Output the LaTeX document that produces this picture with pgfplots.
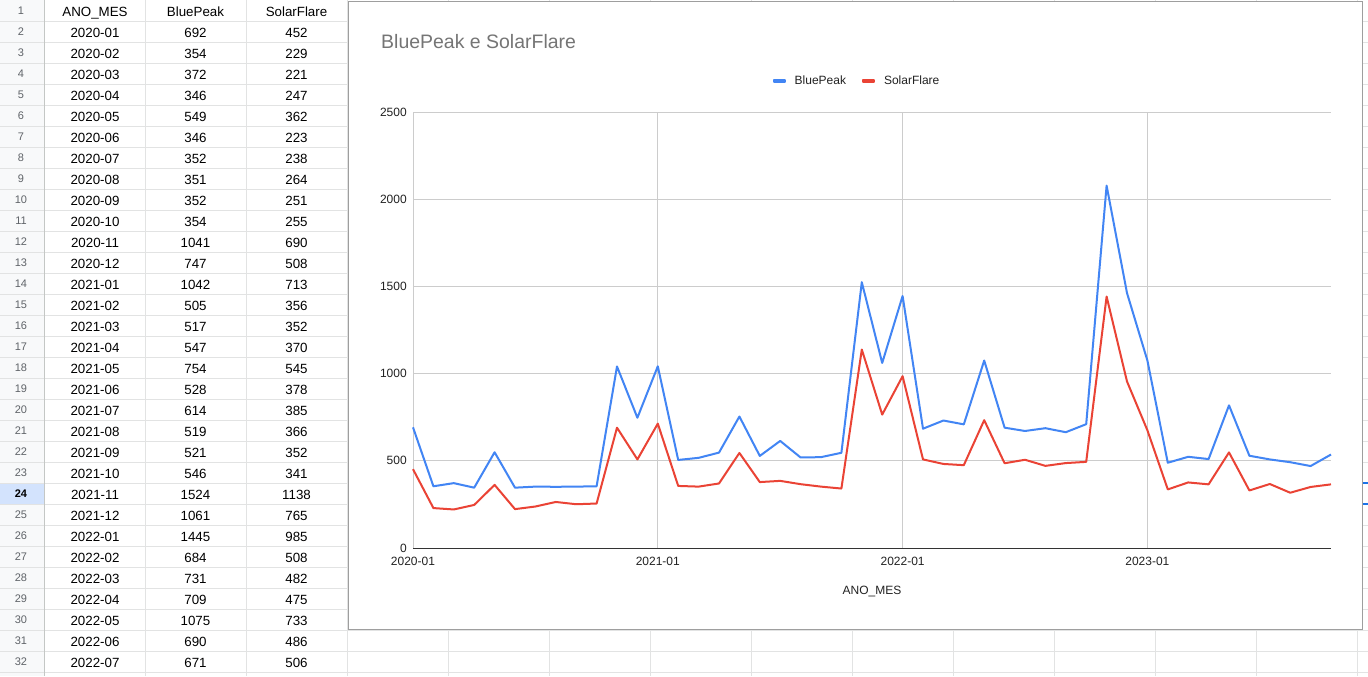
\documentclass[border=0pt]{standalone}
\usepackage{fontspec}
\setmainfont{Liberation Sans}
\usepackage{pgfplots}
\usepackage{pgfplotstable}
\pgfplotsset{compat=1.18}
\definecolor{bpblue}{HTML}{4285F4}
\definecolor{sfred}{HTML}{EA4335}
\definecolor{gridc}{HTML}{E2E3E3}
\definecolor{hdrbg}{HTML}{F8F9FA}
\definecolor{hdrtxt}{HTML}{5F6368}
\definecolor{hdrline}{HTML}{C4C7C5}
\definecolor{selbg}{HTML}{D3E3FD}
\definecolor{selblue}{HTML}{1A73E8}
\definecolor{chgrid}{HTML}{CCCCCC}
\definecolor{titlec}{HTML}{757575}
\definecolor{boxc}{HTML}{9E9E9E}
\definecolor{txtc}{HTML}{222222}

\pgfplotstableread{
mes BluePeak SolarFlare
2020-01 692 452
2020-02 354 229
2020-03 372 221
2020-04 346 247
2020-05 549 362
2020-06 346 223
2020-07 352 238
2020-08 351 264
2020-09 352 251
2020-10 354 255
2020-11 1041 690
2020-12 747 508
2021-01 1042 713
2021-02 505 356
2021-03 517 352
2021-04 547 370
2021-05 754 545
2021-06 528 378
2021-07 614 385
2021-08 519 366
2021-09 521 352
2021-10 546 341
2021-11 1524 1138
2021-12 1061 765
2022-01 1445 985
2022-02 684 508
2022-03 731 482
2022-04 709 475
2022-05 1075 733
2022-06 690 486
2022-07 671 506
2022-08 687 471
2022-09 664 487
2022-10 710 494
2022-11 2078 1442
2022-12 1462 955
2023-01 1075 675
2023-02 489 336
2023-03 523 376
2023-04 510 365
2023-05 818 548
2023-06 529 330
2023-07 508 367
2023-08 492 317
2023-09 470 350
2023-10 536 365
}\datatbl

\begin{document}
\begin{tikzpicture}
\begin{scope}[x=0.75pt,y=-0.75pt]
\useasboundingbox (0,0) rectangle (1368,676);
\fill[white] (0,0) rectangle (1368,676);
\fill[hdrbg] (0,0) rectangle (44,676);
\fill[selbg] (0,483) rectangle (44,504);
\foreach \k in {1,...,32} \draw[gridc, line width=0.75pt] (0,21*\k) -- (1368,21*\k);
\foreach \xx in {145,246,347,448,549,650,751,852,953,1054,1155,1256,1357}
  \draw[gridc, line width=0.75pt] (\xx,0) -- (\xx,676);
\draw[hdrline, line width=0.75pt] (44,0) -- (44,676);
\tikzset{cell/.style={font=\fontsize{10}{12}\selectfont, text height=7.2pt, text depth=0pt, inner sep=0pt},
  rown/.style={font=\fontsize{8.25}{10}\selectfont, text height=5.9pt, text depth=0pt, inner sep=0pt}}
\foreach \k in {1,...,23,25,26,...,32}
  \node[rown, text=hdrtxt] at (21,21*\k-10.5) {\k};
\node[rown, font=\fontsize{8.25}{10}\selectfont\bfseries, text=black] at (21,493.5) {24};
\node[cell] at (95,11.5) {ANO\_MES};
\node[cell] at (195.5,11.5) {BluePeak};
\node[cell] at (296.5,11.5) {SolarFlare};
\foreach \r in {0,...,30} {
  \pgfplotstablegetelem{\r}{mes}\of\datatbl
  \node[cell] at (95,32.5+21*\r) {\pgfplotsretval};
  \pgfplotstablegetelem{\r}{BluePeak}\of\datatbl
  \node[cell] at (195.5,32.5+21*\r) {\pgfplotsretval};
  \pgfplotstablegetelem{\r}{SolarFlare}\of\datatbl
  \node[cell] at (296.5,32.5+21*\r) {\pgfplotsretval};
}
\draw[selblue, line width=1.5pt] (1363,483) -- (1368,483);
\draw[selblue, line width=1.5pt] (1363,504) -- (1368,504);
% chart box
\fill[white] (348,1) rectangle (1362,629);
\draw[boxc, line width=0.75pt] (348,1) rectangle (1362,629);
\end{scope}
\begin{axis}[
  at={(309.75pt,-411pt)}, anchor=south west,
  scale only axis, width=688.5pt, height=327pt,
  xmin=0, xmax=45, ymin=0, ymax=2500,
  xtick={0,12,24,36}, xticklabels={2020-01,2021-01,2022-01,2023-01},
  ytick={0,500,1000,1500,2000,2500},
  grid=major, major grid style={chgrid, line width=0.75pt},
  axis line style={draw=none}, tick style={draw=none},
  /pgf/number format/assume math mode=true,
  /pgf/number format/1000 sep={},
  ticklabel style={font=\fontsize{9}{11}\selectfont, text=txtc},
  yticklabel style={inner sep=0pt, anchor=east, xshift=-4.5pt},
  xticklabel style={inner sep=0pt, anchor=north, yshift=-6.4pt},
  xlabel={ANO\_MES},
  xlabel style={at={(rel axis cs:0.5,0)}, anchor=center, yshift=-32.25pt, font=\fontsize{9}{11}\selectfont, text=txtc},
  title={BluePeak e SolarFlare},
  title style={at={(rel axis cs:-0.0349,1)}, anchor=west, inner sep=0pt, yshift=46.5pt, font=\fontsize{14.6}{17}\selectfont, text=titlec},
  legend columns=2,
  legend image code/.code={\fill (0pt,-1.1pt) rectangle (8.25pt,1.1pt);},
  legend style={at={(rel axis cs:0.4826,1)}, anchor=center, yshift=23.25pt, draw=none, fill=none,
    inner sep=0pt, font=\fontsize{9}{11}\selectfont, text=txtc,
    nodes={inner sep=0pt},
    /tikz/every odd column/.append style={column sep=6.75pt},
    /tikz/every even column/.append style={column sep=12pt}},
  clip=false,
]
\addplot[bpblue, line width=1.5pt, line join=round] table[x expr=\coordindex, y=BluePeak] {\datatbl};
\addlegendentry{BluePeak}
\addplot[sfred, line width=1.5pt, line join=round] table[x expr=\coordindex, y=SolarFlare] {\datatbl};
\addlegendentry{SolarFlare}
\draw[black!80, line width=0.75pt] (rel axis cs:0,0) -- (rel axis cs:1,0);
\end{axis}
\end{tikzpicture}
\end{document}
